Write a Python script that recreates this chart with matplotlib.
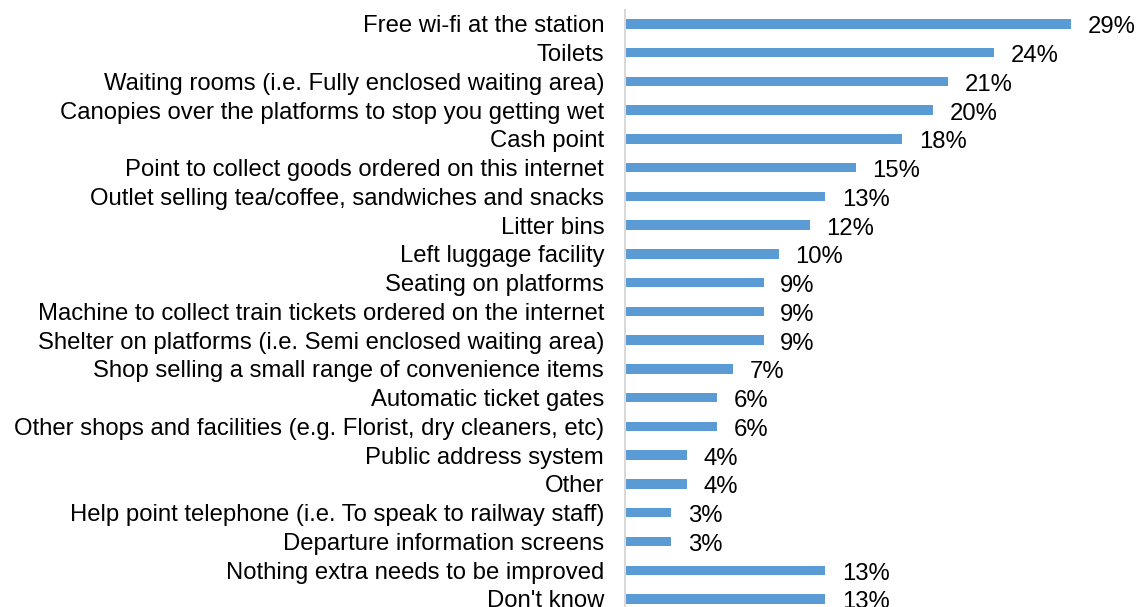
import matplotlib.pyplot as plt

plt.rcParams['font.family'] = ['Liberation Sans', 'DejaVu Sans']

# survey answers, top to bottom
categories = [
    "Free wi-fi at the station",
    "Toilets",
    "Waiting rooms (i.e. Fully enclosed waiting area)",
    "Canopies over the platforms to stop you getting wet",
    "Cash point",
    "Point to collect goods ordered on this internet",
    "Outlet selling tea/coffee, sandwiches and snacks",
    "Litter bins",
    "Left luggage facility",
    "Seating on platforms",
    "Machine to collect train tickets ordered on the internet",
    "Shelter on platforms (i.e. Semi enclosed waiting area)",
    "Shop selling a small range of convenience items",
    "Automatic ticket gates",
    "Other shops and facilities (e.g. Florist, dry cleaners, etc)",
    "Public address system",
    "Other",
    "Help point telephone (i.e. To speak to railway staff)",
    "Departure information screens",
    "Nothing extra needs to be improved",
    "Don't know",
]
values = [29, 24, 21, 20, 18, 15, 13, 12, 10, 9, 9, 9, 7, 6, 6, 4, 4, 3, 3, 13, 13]

fig = plt.figure(figsize=(11.36, 6.07), dpi=100)
# axes runs a little past the bottom edge, so the last bar is cut off
ax = fig.add_axes([625 / 1136, -0.0105, 508 / 1136, 0.9947])

pos = list(range(len(categories)))
bars = ax.barh(pos, values, height=0.33, color='#5B9BD5')

for b, v in zip(bars, values):
    ax.annotate(f"{v}%", (b.get_width(), b.get_y() + b.get_height() / 2),
                xytext=(12, -2.5), textcoords='offset points',
                ha='left', va='center', fontsize=17.2, color='black',
                annotation_clip=False)

ax.set_yticks(pos)
ax.set_yticklabels(categories, fontsize=17.2)
ax.set_ylim(20.5, -0.5)
ax.set_xlim(0, 33)
ax.tick_params(axis='y', length=0, pad=15)
ax.set_xticks([])

for side in ['top', 'right', 'bottom']:
    ax.spines[side].set_visible(False)
ax.spines['left'].set_color('#D9D9D9')
ax.spines['left'].set_linewidth(1.5)

fig.savefig('out.png', dpi=100)
